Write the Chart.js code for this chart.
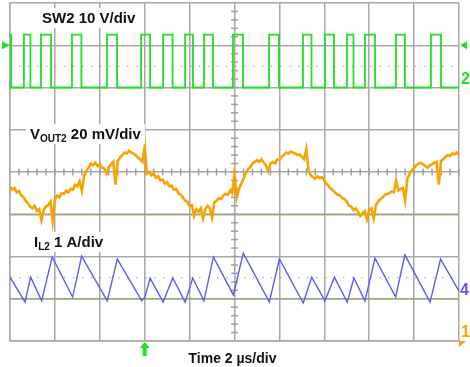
<!DOCTYPE html>
<html>
<head>
<meta charset="utf-8">
<script src="https://cdn.jsdelivr.net/npm/chart.js@4"></script>
<style>
  html, body { margin: 0; padding: 0; background: #fff; }
</style>
</head>
<body>
<canvas id="scope" width="470" height="367"></canvas>
<script>
// ---- data (time in µs, amplitude in screen divisions) ----

// SW2 switch node: edges of each high pulse
const swRise = [0.62, 1.38, 2.76, 4.32, 5.84, 6.82, 7.80, 8.64, 9.93, 11.54, 13.05, 14.03, 15.01, 15.81, 17.19, 18.75];
const swFall = [0.91, 1.83, 3.18, 4.77, 6.24, 7.24, 8.15, 9.04, 10.38, 11.98, 13.43, 14.43, 15.30, 16.26, 17.59, 19.20];
const swLow = 6.0;
const swHigh = 7.25;

// VOUT2 ripple, one sample every 0.1 µs
const voutStep = 0.1;
const voutVals = [
  3.66, 3.58, 3.62, 3.52, 3.55, 3.45, 3.40, 3.32, 3.26, 3.18,
  3.14, 3.20, 3.08, 3.12, 2.86, 3.10, 3.18, 3.22, 3.30, 2.84,
  3.36, 3.44, 3.40, 3.50, 3.48, 3.56, 3.52, 3.60, 3.58, 3.70,
  3.66, 3.78, 3.55, 3.90, 4.02, 4.10, 4.20, 4.16, 4.22, 4.14,
  4.18, 4.10, 4.08, 3.96, 4.12, 4.18, 4.24, 3.70, 4.26, 4.34,
  4.40, 4.46, 4.44, 4.50, 4.46, 4.44, 4.40, 4.34, 4.30, 4.24,
  4.60, 3.96, 4.00, 3.92, 3.96, 3.86, 3.90, 3.80, 3.82, 3.72,
  3.76, 3.66, 3.68, 3.58, 3.60, 3.50, 3.46, 3.40, 3.32, 3.30,
  3.20, 3.22, 2.96, 3.12, 3.06, 3.14, 2.90, 3.12, 3.20, 3.14,
  2.92, 3.28, 3.32, 3.38, 3.36, 3.44, 3.48, 3.46, 3.56, 3.50,
  3.95, 3.40, 3.60, 3.72, 3.84, 3.96, 4.06, 4.12, 4.20, 4.24,
  4.28, 4.24, 4.30, 4.22, 4.16, 4.02, 4.20, 4.24, 4.20, 4.30,
  4.28, 4.36, 4.40, 4.46, 4.44, 4.48, 4.46, 4.44, 4.40, 4.42,
  4.36, 4.30, 4.54, 4.02, 3.92, 3.88, 3.84, 3.90, 3.86, 3.88,
  3.80, 3.72, 3.66, 3.60, 3.56, 3.50, 3.46, 3.44, 3.38, 3.36,
  3.30, 3.20, 3.18, 3.10, 3.14, 3.06, 2.96, 3.02, 3.08, 2.88,
  3.10, 3.14, 2.90, 3.22, 3.30, 3.36, 3.40, 3.46, 3.48, 3.50,
  3.54, 3.52, 3.80, 3.56, 3.60, 3.62, 3.32, 3.84, 3.96, 4.04,
  4.10, 4.16, 4.20, 4.22, 4.18, 4.14, 4.10, 4.16, 4.18, 4.22,
  4.24, 3.70, 4.26, 4.30, 4.36, 4.40, 4.38, 4.44, 4.42, 4.46,
  4.40
];

// IL2 inductor current, corner points of the triangle wave
const ilTime = [0, 0.67, 0.92, 1.41, 1.88, 2.79, 3.19, 4.33, 4.78, 5.87, 6.01, 6.24, 6.82, 7.25, 7.80, 8.14, 8.64, 9.06,
  9.95, 10.39, 11.55, 12.00, 13.06, 13.44, 14.03, 14.45, 15.02, 15.32, 15.81, 16.26, 17.18, 17.59, 18.71, 19.18, 20.0];
const ilVals = [1.51, 0.92, 1.51, 0.95, 1.99, 1.04, 2.01, 0.95, 1.94, 0.95, 1.04, 1.49, 0.92, 1.49, 0.92, 1.49, 0.95, 1.99,
  1.09, 2.08, 0.92, 1.94, 0.90, 1.51, 0.95, 1.51, 0.92, 1.49, 0.95, 1.96, 1.04, 2.04, 0.92, 1.94, 1.18];

const refLevels = [3, 1];       // channel ground lines
const dotLevels = [6.5, 1.5];   // dotted threshold lines
const triggerTime = 6;
const trigLevel = 7;

// ---- build point lists ----
const swPoints = [{x: 0, y: swHigh}, {x: 0.05, y: swHigh}, {x: 0.05, y: swLow}];
swRise.forEach((r, i) => {
  swPoints.push({x: r, y: swLow}, {x: r, y: swHigh}, {x: swFall[i], y: swHigh}, {x: swFall[i], y: swLow});
});
swPoints.push({x: 20, y: swLow});

const voutPoints = voutVals.map((v, i) => ({x: +(i * voutStep).toFixed(2), y: v}));
const ilPoints = ilTime.map((t, i) => ({x: t, y: ilVals[i]}));

const GREEN = '#22e022';
const ORANGE = '#f7a400';
const BLUE = '#5c5cf0';
const FONT = '"Liberation Sans", Arial, sans-serif';

function line(ctx, x1, y1, x2, y2) {
  ctx.beginPath(); ctx.moveTo(x1, y1); ctx.lineTo(x2, y2); ctx.stroke();
}

// draws a label made of parts (normal + subscript) on a white box
function drawLabel(ctx, parts, x, base) {
  let w = 0;
  parts.forEach(p => { ctx.font = 'bold ' + p.size + 'px ' + FONT; w += ctx.measureText(p.t).width; });
  ctx.fillStyle = '#fff';
  ctx.fillRect(x - 4, base - 15, w + 8, 20);
  let cx = x;
  ctx.fillStyle = '#111';
  ctx.textBaseline = 'alphabetic';
  parts.forEach(p => {
    ctx.font = 'bold ' + p.size + 'px ' + FONT;
    ctx.fillText(p.t, cx, base + p.dy);
    cx += ctx.measureText(p.t).width;
  });
}

const scopeDecor = {
  id: 'scopeDecor',
  beforeDatasetsDraw(chart) {
    const ctx = chart.ctx, X = chart.scales.x, Y = chart.scales.y, a = chart.chartArea;
    ctx.save();
    ctx.strokeStyle = '#98a878';
    ctx.lineWidth = 1.5;
    refLevels.forEach(v => { const py = Y.getPixelForValue(v); line(ctx, a.left, py, a.right, py); });
    ctx.strokeStyle = '#a0a0a0';
    ctx.lineWidth = 1;
    ctx.setLineDash([1.5, 7.5]);
    dotLevels.forEach(v => { const py = Y.getPixelForValue(v); line(ctx, a.left, py, a.right, py); });
    ctx.setLineDash([]);
    // minor ticks on the centre cross
    ctx.strokeStyle = '#a0a0a0';
    ctx.lineWidth = 1.5;
    const cx = X.getPixelForValue(10), cy = Y.getPixelForValue(4);
    for (let t = 0.4; t < 20; t += 0.4) {
      const px = X.getPixelForValue(t);
      line(ctx, px, cy - 3.5, px, cy + 3.5);
    }
    for (let d = 0.2; d < 8; d += 0.2) {
      const py = Y.getPixelForValue(d);
      line(ctx, cx - 3.5, py, cx + 3.5, py);
    }
    ctx.restore();
  },
  afterDatasetsDraw(chart) {
    const ctx = chart.ctx, X = chart.scales.x, Y = chart.scales.y, a = chart.chartArea;
    ctx.save();
    drawLabel(ctx, [{t: 'SW2 10 V/div', size: 15, dy: 0}], 42, 23);
    drawLabel(ctx, [{t: 'V', size: 15, dy: 0}, {t: 'OUT2', size: 10, dy: 3}, {t: ' 20 mV/div', size: 15, dy: 0}], 30, 139);
    drawLabel(ctx, [{t: 'I', size: 15, dy: 0}, {t: 'L2', size: 10, dy: 3}, {t: ' 1 A/div', size: 15, dy: 0}], 34, 247);

    ctx.fillStyle = '#111';
    ctx.font = 'bold 14px ' + FONT;
    ctx.textAlign = 'center';
    ctx.fillText('Time 2 \u00b5s/div', X.getPixelForValue(10) - 2, 363);

    // trigger arrow under the plot
    const tx = X.getPixelForValue(triggerTime);
    ctx.fillStyle = GREEN;
    ctx.beginPath();
    ctx.moveTo(tx, a.bottom + 1); ctx.lineTo(tx - 5, a.bottom + 7); ctx.lineTo(tx + 5, a.bottom + 7);
    ctx.closePath(); ctx.fill();
    ctx.fillRect(tx - 2, a.bottom + 6, 4, 9);

    // trigger level markers
    const ty = Y.getPixelForValue(trigLevel);
    ctx.beginPath();
    ctx.moveTo(a.left, ty); ctx.lineTo(a.left - 8, ty - 4); ctx.lineTo(a.left - 8, ty + 4);
    ctx.closePath(); ctx.fill();
    ctx.beginPath();
    ctx.moveTo(a.right + 1, ty); ctx.lineTo(a.right + 8, ty - 4); ctx.lineTo(a.right + 8, ty + 4);
    ctx.closePath(); ctx.fill();

    // channel numbers
    ctx.textAlign = 'left';
    ctx.font = 'bold 16px ' + FONT;
    ctx.fillStyle = GREEN;
    ctx.fillText('2', a.right + 2, Y.getPixelForValue(6) - 4);
    ctx.fillStyle = BLUE;
    ctx.fillText('4', a.right + 1, Y.getPixelForValue(1.1));
    ctx.fillStyle = ORANGE;
    ctx.fillText('1', a.right + 2, a.bottom - 4);
    ctx.beginPath();
    ctx.moveTo(a.right, a.bottom); ctx.lineTo(a.right + 7, a.bottom); ctx.lineTo(a.right, a.bottom + 6);
    ctx.closePath(); ctx.fill();
    ctx.restore();
  }
};

new Chart(document.getElementById('scope'), {
  type: 'line',
  data: {
    datasets: [
      { label: 'SW2', data: swPoints, borderColor: GREEN, borderWidth: 1.8, pointRadius: 0, tension: 0 },
      { label: 'VOUT2', data: voutPoints, borderColor: ORANGE, borderWidth: 2.6, pointRadius: 0, tension: 0 },
      { label: 'IL2', data: ilPoints, borderColor: BLUE, borderWidth: 1.4, pointRadius: 0, tension: 0 }
    ]
  },
  options: {
    responsive: false,
    devicePixelRatio: 1,
    animation: false,
    layout: { padding: { left: 10, right: 11, top: 3, bottom: 26 } },
    plugins: { legend: { display: false }, tooltip: { enabled: false } },
    scales: {
      x: {
        type: 'linear', min: 0, max: 20,
        ticks: { display: false, stepSize: 2 },
        grid: { color: '#a8a8a8', lineWidth: 1.5, drawTicks: false },
        border: { display: true, color: '#a8a8a8', width: 1.5 }
      },
      y: {
        type: 'linear', min: 0, max: 8,
        ticks: { display: false, stepSize: 1 },
        grid: { color: '#a8a8a8', lineWidth: 1.5, drawTicks: false },
        border: { display: true, color: '#a8a8a8', width: 1.5 }
      }
    }
  },
  plugins: [scopeDecor]
});
</script>
</body>
</html>
